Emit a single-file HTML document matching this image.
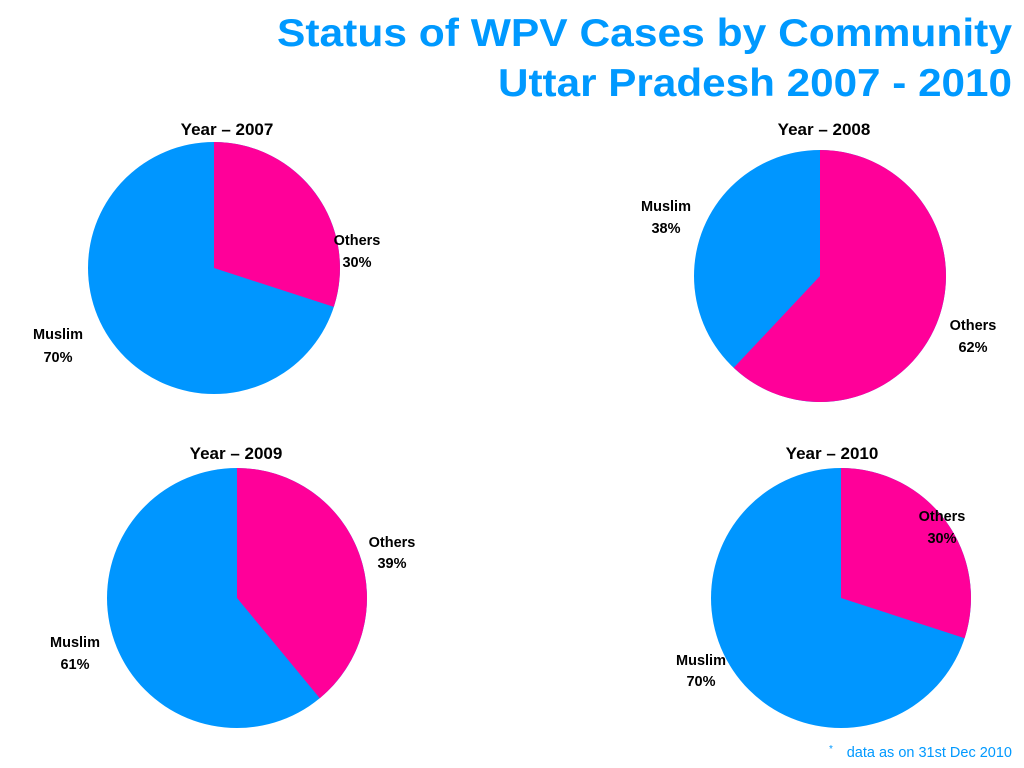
<!DOCTYPE html>
<html><head><meta charset="utf-8"><style>
html,body{margin:0;padding:0;background:#fff;}
svg{display:block;}
text{font-family:"Liberation Sans",Arial,sans-serif;}
</style></head><body>
<svg width="1024" height="768" viewBox="0 0 1024 768" xmlns="http://www.w3.org/2000/svg">
<rect width="1024" height="768" fill="#fff"/>
<g fill="#0099FF" font-weight="bold" font-size="39" text-anchor="end">
<text x="1012" y="46" textLength="735" lengthAdjust="spacingAndGlyphs">Status of WPV Cases by Community</text>
<text x="1012" y="96" textLength="514" lengthAdjust="spacingAndGlyphs">Uttar Pradesh 2007 - 2010</text>
</g>
<circle cx="214" cy="268" r="126" fill="#0096FF"/>
<path d="M214,268 L214,142 A126,126 0 0 1 333.8,306.9 Z" fill="#FF0099"/>
<circle cx="820" cy="276" r="126" fill="#0096FF"/>
<path d="M820,276 L820,150 A126,126 0 1 1 733.7,367.8 Z" fill="#FF0099"/>
<circle cx="237" cy="598" r="130" fill="#0096FF"/>
<path d="M237,598 L237,468 A130,130 0 0 1 319.8,698.2 Z" fill="#FF0099"/>
<circle cx="841" cy="598" r="130" fill="#0096FF"/>
<path d="M841,598 L841,468 A130,130 0 0 1 964.6,638.2 Z" fill="#FF0099"/>
<g font-weight="bold" font-size="17" text-anchor="middle" fill="#000">
<text x="227" y="135">Year – 2007</text>
<text x="824" y="135">Year – 2008</text>
<text x="236" y="459">Year – 2009</text>
<text x="832" y="459">Year – 2010</text>
</g>
<g font-weight="bold" font-size="14.5" text-anchor="middle" fill="#000">
<text x="357" y="245">Others</text><text x="357" y="267">30%</text>
<text x="58" y="339">Muslim</text><text x="58" y="362">70%</text>
<text x="666" y="211">Muslim</text><text x="666" y="233">38%</text>
<text x="973" y="330">Others</text><text x="973" y="352">62%</text>
<text x="392" y="547">Others</text><text x="392" y="568">39%</text>
<text x="75" y="647">Muslim</text><text x="75" y="669">61%</text>
<text x="942" y="521">Others</text><text x="942" y="543">30%</text>
<text x="701" y="665">Muslim</text><text x="701" y="686">70%</text>
</g>
<text x="1012" y="757" text-anchor="end" font-size="14.5" fill="#0099FF">data as on 31st Dec 2010</text>
<text x="829" y="752" font-size="10" fill="#0099FF">*</text>
</svg>
</body></html>
